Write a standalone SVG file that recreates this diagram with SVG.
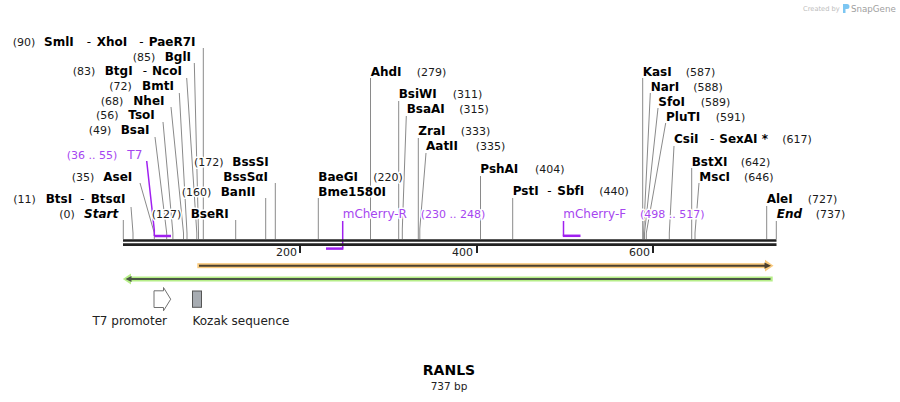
<svg xmlns="http://www.w3.org/2000/svg" width="900" height="402" viewBox="0 0 900 402">
<style>
text{font-family:"DejaVu Sans",Verdana,sans-serif}
.n{font-weight:bold;font-size:12px;fill:#000}
.ni{font-weight:bold;font-style:italic;font-size:12px;fill:#000}
.d{font-size:12px;fill:#000}
.p{font-size:11px;fill:#1a1a1a}
.pt{font-size:12px;fill:#a646f0}
.pn{font-size:11px;fill:#a646f0}
.h{paint-order:stroke;stroke:#fff;stroke-width:3px;stroke-linejoin:round}
.c{stroke:#8a8a8a;stroke-width:1;fill:none}
.pl{stroke:#a020f0;stroke-width:1.5;fill:none}
.pb{stroke:#a020f0;stroke-width:2.5;fill:none}
.tick{fill:#222}
.tl{font-size:11px;fill:#222}
.fl{font-size:12px;fill:#222}
</style>
<rect width="900" height="402" fill="#fff"/>

<!-- logo -->
<g id="logo">
<text x="803" y="11" style="font-size:6.7px;fill:#bdbdbd">Created by</text>
<path d="M843 4 h4 a2.5 2.5 0 0 1 0 5 h-1.5 v4 h-2.5 z" fill="#7cc6f2"/>
<text x="851" y="11.5" style="font-size:8.7px;fill:#a0a0a0">SnapGene</text>
</g>

<!-- connectors -->
<g id="connectors">
<polyline class="c" points="203.3,48 203.3,239"/>
<polyline class="c" points="194.3,63 198.5,233 198.5,239"/>
<polyline class="c" points="186.7,78 196.8,233 196.8,239"/>
<polyline class="c" points="179.3,93 187,233 187,239"/>
<polyline class="c" points="171,107 183.5,233 183.5,239"/>
<polyline class="c" points="163,122 172.9,233 172.9,239"/>
<polyline class="c" points="155,137 166.7,233 166.7,239"/>
<polyline class="c" points="140,183 154.3,233 154.3,239"/>
<polyline class="c" points="131,207 133,233 133,239"/>
<polyline class="c" points="123.3,220 123.3,239"/>
<polyline class="c" points="235.7,220 235.7,239"/>
<polyline class="c" points="265.7,198 265.7,239"/>
<polyline class="c" points="275.3,183 275.3,239"/>
<polyline class="c" points="318.3,198 318.3,239"/>
<polyline class="c" points="370.5,78 370.5,239"/>
<polyline class="c" points="398.7,101 398.7,239"/>
<polyline class="c" points="406.3,116 402.3,229 402.3,239"/>
<polyline class="c" points="418.3,138 418.3,239"/>
<polyline class="c" points="426,153 419.8,229 419.8,239"/>
<polyline class="c" points="480.5,176 480.5,239"/>
<polyline class="c" points="512.7,198 512.7,239"/>
<polyline class="c" points="642.7,78 642.7,239"/>
<polyline class="c" points="650.3,93 643.6,233 643.6,239"/>
<polyline class="c" points="658,108 644.5,233 644.5,239"/>
<polyline class="c" points="665.7,123 646.3,233 646.3,239"/>
<polyline class="c" points="674,146 669.3,233 669.3,239"/>
<polyline class="c" points="691.7,168 691.7,239"/>
<polyline class="c" points="699,183 695,233 695,239"/>
<polyline class="c" points="766.7,206 766.7,239"/>
<polyline class="c" points="776.3,221 776.3,239"/>
<!-- primer leaders -->
<polyline class="pl" points="146.7,161 154.3,230 154.3,236"/>
<polyline class="pl" points="342.7,221 342.7,248.5"/>
<polyline class="pl" points="563.5,221 563.5,236"/>
</g>

<!-- sequence backbone -->
<g id="backbone">
<line x1="123" y1="240.5" x2="776.5" y2="240.5" stroke="#222" stroke-width="2.6"/>
<line x1="123" y1="244.6" x2="776.5" y2="244.6" stroke="#222" stroke-width="2.6"/>
<rect class="tick" x="299" y="245" width="2" height="8"/>
<rect class="tick" x="476" y="245" width="2" height="8"/>
<rect class="tick" x="652" y="245" width="2" height="8"/>
<text class="tl" x="297" y="256" text-anchor="end">200</text>
<text class="tl" x="473" y="256" text-anchor="end">400</text>
<text class="tl" x="650" y="256" text-anchor="end">600</text>
</g>

<!-- primers -->
<g id="primer-T7">
<line class="pb" x1="154.3" y1="236" x2="171" y2="236"/>
<text class="pn h" x="66.7" y="159">(36 .. 55)</text>
<text class="pt h" x="127.3" y="159">T7</text>
</g>
<g id="primer-mCherry-R">
<line class="pb" x1="326" y1="248.6" x2="343.4" y2="248.6"/>
<text class="pt h" x="342.7" y="218.3">mCherry-R</text>
<text class="pn h" x="420.7" y="218.3">(230 .. 248)</text>
</g>
<g id="primer-mCherry-F">
<line class="pb" x1="562.8" y1="235.8" x2="580.5" y2="235.8"/>
<text class="pt h" x="563.3" y="218.3">mCherry-F</text>
<text class="pn h" x="640" y="218.3">(498 .. 517)</text>
</g>

<!-- enzyme sites (left) -->
<g id="site-SmlI"><text class="p h" x="12.7" y="46">(90)</text><text class="n h" x="44" y="46">SmlI</text><text class="d h" x="86.7" y="46">-</text><text class="n h" x="96.7" y="46">XhoI</text><text class="d h" x="139.3" y="46">-</text><text class="n h" x="148.7" y="46">PaeR7I</text></g>
<g id="site-BglI"><text class="p h" x="132.7" y="60.5">(85)</text><text class="n h" x="164.7" y="60.5">BglI</text></g>
<g id="site-BtgI"><text class="p h" x="72.7" y="75.3">(83)</text><text class="n h" x="104.7" y="75.3">BtgI</text><text class="d h" x="142.7" y="75.3">-</text><text class="n h" x="152" y="75.3">NcoI</text></g>
<g id="site-BmtI"><text class="p h" x="109.3" y="90">(72)</text><text class="n h" x="142" y="90">BmtI</text></g>
<g id="site-NheI"><text class="p h" x="100.7" y="104.7">(68)</text><text class="n h" x="133.3" y="104.7">NheI</text></g>
<g id="site-TsoI"><text class="p h" x="96" y="119.3">(56)</text><text class="n h" x="128.3" y="119.3">TsoI</text></g>
<g id="site-BsaI"><text class="p h" x="88.7" y="134">(49)</text><text class="n h" x="120.7" y="134">BsaI</text></g>
<g id="site-AseI"><text class="p h" x="71.7" y="180.7">(35)</text><text class="n h" x="103.3" y="180.7">AseI</text></g>
<g id="site-BtsI"><text class="p h" x="13.3" y="203.3">(11)</text><text class="n h" x="45.7" y="203.3">BtsI</text><text class="d h" x="80" y="203.3">-</text><text class="n h" x="90.7" y="203.3">BtsαI</text></g>
<g id="site-Start"><text class="p h" x="59.3" y="218.3">(0)</text><text class="ni h" x="84" y="218.3">Start</text></g>
<g id="site-BseRI"><text class="p h" x="151.7" y="218.3">(127)</text><text class="n h" x="190.7" y="218.3">BseRI</text></g>
<g id="site-BanII"><text class="p h" x="181.7" y="195.7">(160)</text><text class="n h" x="220.7" y="195.7">BanII</text></g>
<g id="site-BssSI"><text class="p h" x="194" y="166">(172)</text><text class="n h" x="232.3" y="166">BssSI</text><text class="n h" x="223.3" y="181">BssSαI</text></g>

<!-- enzyme sites (middle) -->
<g id="site-BaeGI"><text class="n h" x="318.3" y="180.7">BaeGI</text><text class="p h" x="373.3" y="180.7">(220)</text><text class="n h" x="318.3" y="195.7">Bme1580I</text></g>
<g id="site-AhdI"><text class="n h" x="370.7" y="75.7">AhdI</text><text class="p h" x="416.7" y="75.7">(279)</text></g>
<g id="site-BsiWI"><text class="n h" x="398.7" y="98.3">BsiWI</text><text class="p h" x="452.7" y="98.3">(311)</text></g>
<g id="site-BsaAI"><text class="n h" x="406.7" y="113.3">BsaAI</text><text class="p h" x="459.3" y="113.3">(315)</text></g>
<g id="site-ZraI"><text class="n h" x="418.3" y="135">ZraI</text><text class="p h" x="460.7" y="135">(333)</text></g>
<g id="site-AatII"><text class="n h" x="426" y="150">AatII</text><text class="p h" x="475.7" y="150">(335)</text></g>
<g id="site-PshAI"><text class="n h" x="480.3" y="173.3">PshAI</text><text class="p h" x="535" y="173.3">(404)</text></g>
<g id="site-PstI"><text class="n h" x="512.7" y="195">PstI</text><text class="d h" x="547.3" y="195">-</text><text class="n h" x="557.3" y="195">SbfI</text><text class="p h" x="599.3" y="195">(440)</text></g>

<!-- enzyme sites (right) -->
<g id="site-KasI"><text class="n h" x="642.7" y="75.7">KasI</text><text class="p h" x="685.7" y="75.7">(587)</text></g>
<g id="site-NarI"><text class="n h" x="650.7" y="90.7">NarI</text><text class="p h" x="693.3" y="90.7">(588)</text></g>
<g id="site-SfoI"><text class="n h" x="658.3" y="105.7">SfoI</text><text class="p h" x="700.7" y="105.7">(589)</text></g>
<g id="site-PluTI"><text class="n h" x="666" y="120.7">PluTI</text><text class="p h" x="715.7" y="120.7">(591)</text></g>
<g id="site-CsiI"><text class="n h" x="674" y="143.3">CsiI</text><text class="d h" x="710" y="143.3">-</text><text class="n h" x="719.3" y="143.3">SexAI *</text><text class="p h" x="782.3" y="143.3">(617)</text></g>
<g id="site-BstXI"><text class="n h" x="691.7" y="165.7">BstXI</text><text class="p h" x="740.7" y="165.7">(642)</text></g>
<g id="site-MscI"><text class="n h" x="699.3" y="180.7">MscI</text><text class="p h" x="744" y="180.7">(646)</text></g>
<g id="site-AleI"><text class="n h" x="766.7" y="203.3">AleI</text><text class="p h" x="807.7" y="203.3">(727)</text></g>
<g id="site-End"><text class="ni h" x="776.7" y="218.3">End</text><text class="p h" x="815.7" y="218.3">(737)</text></g>

<!-- features -->
<g id="feature-orange">
<rect x="197.3" y="263.2" width="568" height="5" fill="#f9c97c"/>
<polygon points="773.5,265.7 765,259.8 765,271.6" fill="#f9c97c"/>
<line x1="199" y1="265.7" x2="766" y2="265.7" stroke="#4a4030" stroke-width="2"/>
<polygon points="771,265.7 764.5,262.6 764.5,268.8" fill="#4a4030"/>
</g>
<g id="feature-green">
<rect x="131" y="276.5" width="641.7" height="5" fill="#b6ee88"/>
<polygon points="122.8,279 131,273.6 131,284.4" fill="#b6ee88"/>
<line x1="130" y1="279" x2="770.5" y2="279" stroke="#4b5546" stroke-width="2"/>
<polygon points="125.5,279 131.5,276 131.5,282" fill="#4b5546"/>
</g>
<g id="feature-T7-promoter">
<polygon points="154,290.8 163.5,290.8 163.5,287.5 170.7,299.2 163.5,310.8 163.5,307.5 154,307.5" fill="#fff" stroke="#707070" stroke-width="1"/>
<text class="fl" x="92.5" y="325">T7 promoter</text>
</g>
<g id="feature-Kozak">
<rect x="192.5" y="291" width="9" height="16.3" fill="#a7acb2" stroke="#555" stroke-width="1"/>
<text class="fl" x="192.5" y="325">Kozak sequence</text>
</g>

<!-- title -->
<g id="title">
<text x="449" y="375" text-anchor="middle" style="font-weight:bold;font-size:14px;fill:#000">RANLS</text>
<text x="449" y="390" text-anchor="middle" style="font-size:10.5px;fill:#222">737 bp</text>
</g>
</svg>
